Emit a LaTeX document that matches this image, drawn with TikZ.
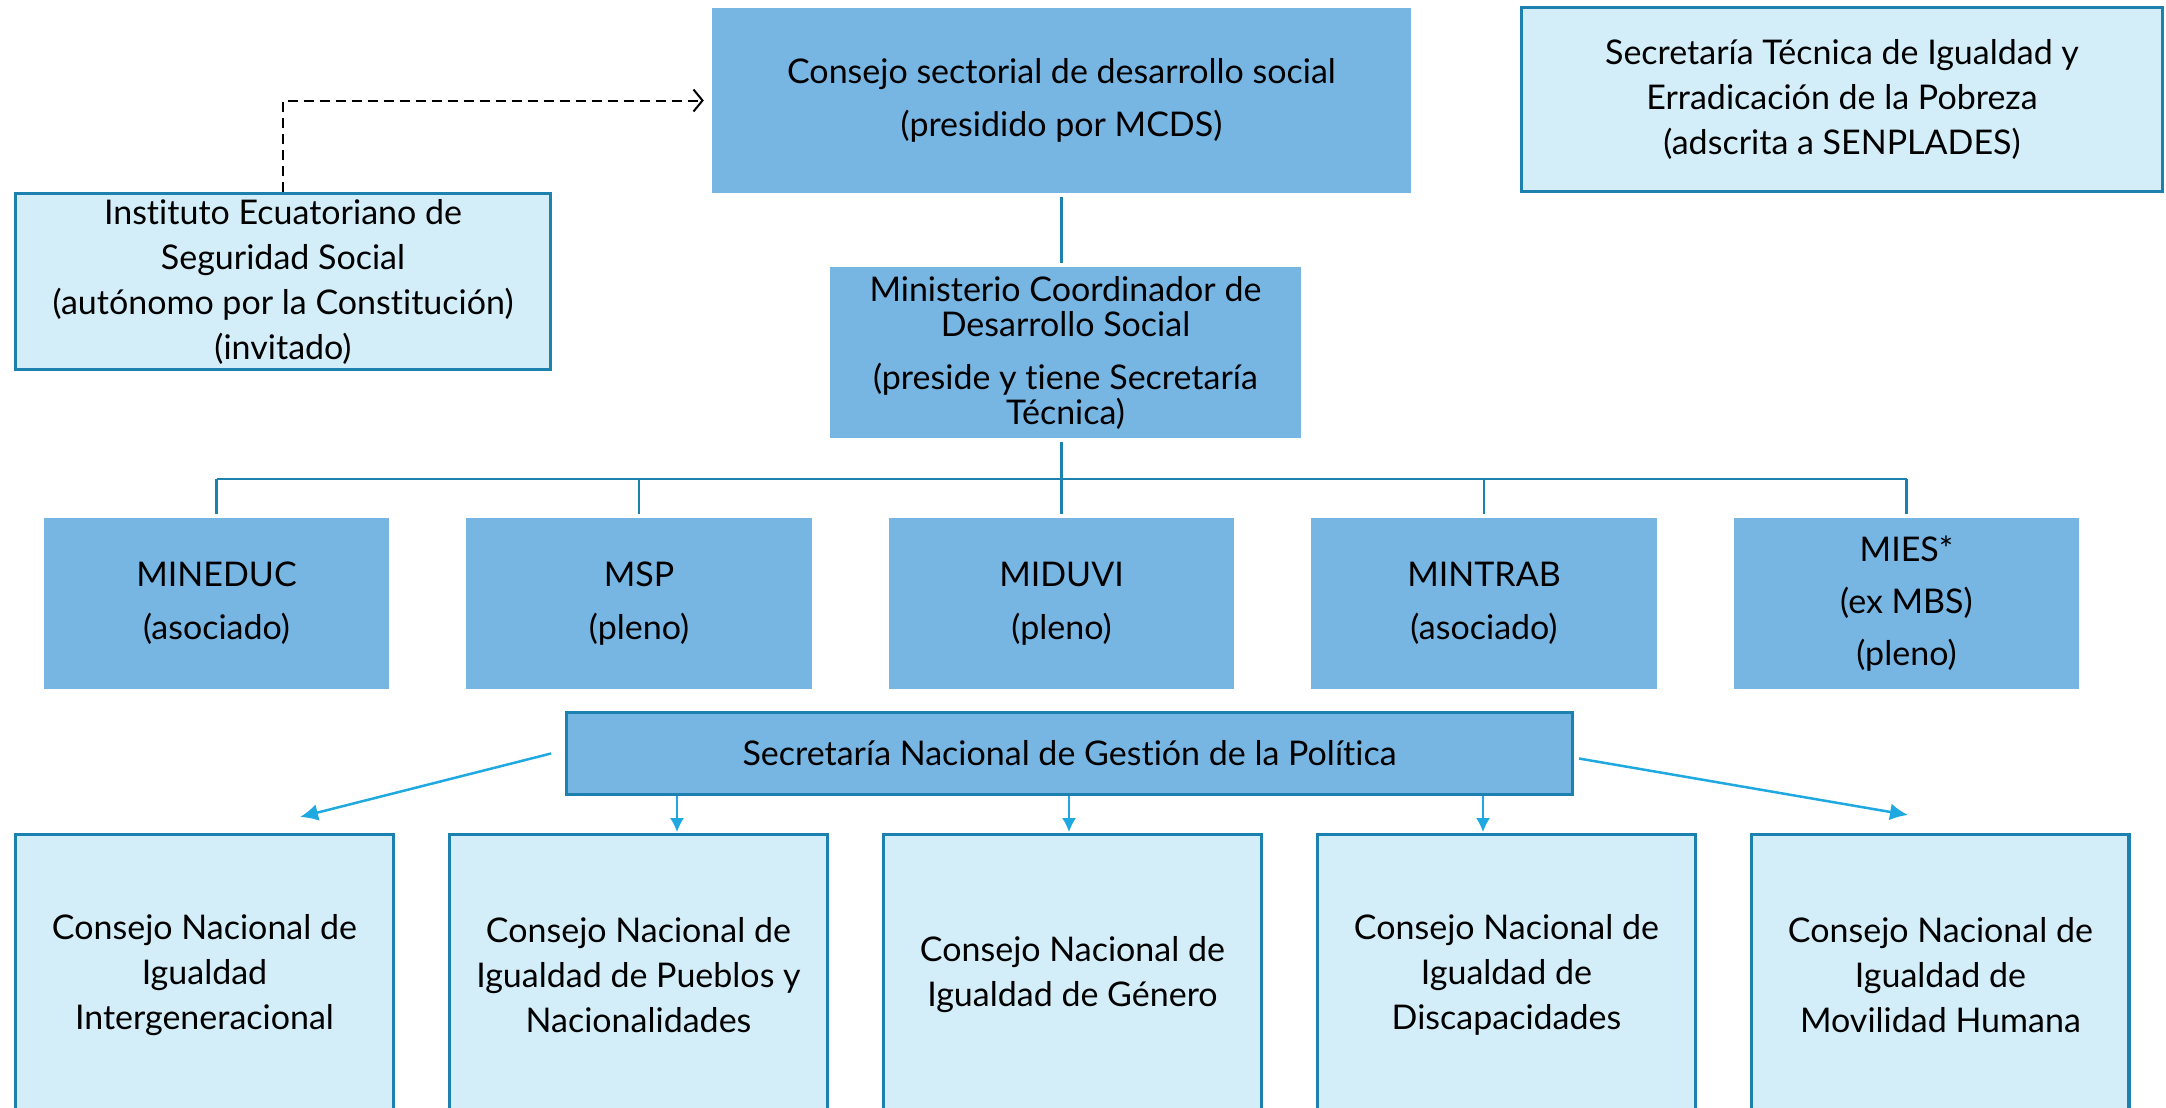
\documentclass[tikz,border=0pt]{standalone}
\usepackage{fontspec}
\setmainfont{Lato}[Ligatures=NoCommon]
\usepackage{xcolor}
\usepackage{tikz}
\usetikzlibrary{arrows.meta,positioning,calc}

\definecolor{midblue}{HTML}{77B5E3}
\definecolor{paleblue}{HTML}{D3EEF9}
\definecolor{edgeblue}{HTML}{1C81AE}
\definecolor{arrowblue}{HTML}{20A8E0}

\begin{document}
\begin{tikzpicture}[x=1pt,y=-1pt,
  every matrix/.style={ampersand replacement=\&,inner sep=0pt},
  every node/.style={align=center,inner sep=0pt,font=\fontsize{34}{45}\selectfont},
  council/.style={fill=midblue},
  ministry/.style={fill=midblue,minimum width=345.5pt,minimum height=171pt},
  office/.style={draw=edgeblue,line width=3pt,fill=paleblue},
  equality/.style={office,minimum width=377pt,minimum height=281pt},
  spoke/.style={draw=edgeblue,line width=2.5pt},
  invite/.style={draw=black,line width=2pt,dash pattern=on 10pt off 6pt,-{Straight Barb[length=9pt,width=22pt]}},
  drop/.style={draw=arrowblue,line width=1.5pt,-{Latex[length=14pt,width=14pt]}},
  slant/.style={draw=arrowblue,line width=2.5pt,-{Latex[length=18pt,width=17pt]}}]

    \useasboundingbox (0,0) rectangle (2166,1108);

    % top level
    \node[council,minimum width=699pt,minimum height=185pt](consejo) at (1061.5,100.5)
        {Consejo sectorial de desarrollo social\\[8pt](presidido por MCDS)};
    \node[office,minimum width=641pt,minimum height=184pt](sectec) at (1842,99.5)
        {Secretaría Técnica de Igualdad y\\Erradicación de la Pobreza\\(adscrita a SENPLADES)};
    \node[office,minimum width=535pt,minimum height=176pt](iess) at (283,281.5)
        {Instituto Ecuatoriano de\\Seguridad Social\\(autónomo por la Constitución)\\(invitado)};
    \node[council,minimum width=471pt,minimum height=171pt,font=\fontsize{34}{35}\selectfont](mcds) at (1065.5,352.5)
        {Ministerio Coordinador de\\Desarrollo Social\\[18pt](preside y tiene Secretaría\\Técnica)};

    % ministries
    \matrix[column sep=77pt] at (1061.5,603.5) {
        \node[ministry](mineduc){MINEDUC\\[8pt](asociado)};
            \& \node[ministry](msp){MSP\\[8pt](pleno)};
            \& \node[ministry](miduvi){MIDUVI\\[8pt](pleno)};
            \& \node[ministry](mintrab){MINTRAB\\[8pt](asociado)};
            \& \node[ministry](mies){MIES*\\[7pt](ex MBS)\\[7pt](pleno)}; \\
    };

    \node[council,draw=edgeblue,line width=3pt,minimum width=1006pt,minimum height=82pt](snp) at (1069.5,753.5)
        {Secretaría Nacional de Gestión de la Política};

    % consejos nacionales
    \matrix[column sep=54pt] at (1072.5,975) {
        \node[equality](cn1){Consejo Nacional de\\Igualdad\\Intergeneracional};
            \& \node[equality](cn2){Consejo Nacional de\\Igualdad de Pueblos y\\Nacionalidades};
            \& \node[equality](cn3){Consejo Nacional de\\Igualdad de Género};
            \& \node[equality](cn4){Consejo Nacional de\\Igualdad de\\Discapacidades};
            \& \node[equality](cn5){Consejo Nacional de\\Igualdad de\\Movilidad Humana}; \\
    };

    % tree
    \coordinate (bus) at (1061.5,479);
    \draw[spoke,shorten <=4pt,shorten >=4pt](consejo.south) -- (consejo.south |- mcds.north);
    \draw[spoke,shorten <=4pt](mcds.south -| consejo) -- (consejo |- bus);
    \draw[spoke](mineduc.north |- bus) -- (mies.north |- bus);
    \foreach \m in {mineduc,msp,miduvi,mintrab,mies}
        \draw[spoke](\m.north |- bus) -- ([yshift=4pt]\m.north);

    \draw[invite](iess.north) |- ([xshift=-8pt]consejo.west);

    % arrows to the consejos
    \coordinate (t1) at (300,817);
    \coordinate (t2) at (677,832);
    \coordinate (t3) at (1069,832);
    \coordinate (t4) at (1483,832);
    \coordinate (t5) at (1908,815);
    \draw[slant]([xshift=-14pt]snp.west) -- (t1);
    \draw[drop](snp.south -| t2) -- (t2);
    \draw[drop](snp.south -| t3) -- (t3);
    \draw[drop](snp.south -| t4) -- (t4);
    \draw[slant]([xshift=5pt,yshift=-5pt]snp.east) -- (t5);
\end{tikzpicture}
\end{document}
